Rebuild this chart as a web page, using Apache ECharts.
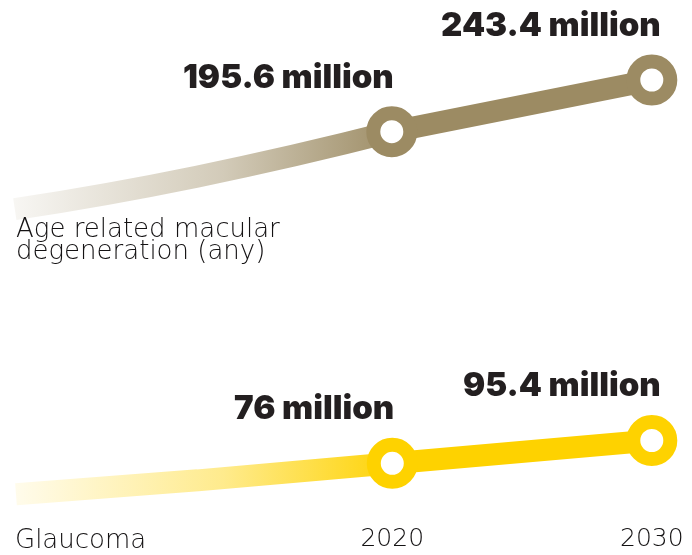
<!DOCTYPE html>
<html>
<head>
<meta charset="utf-8">
<script src="https://cdn.jsdelivr.net/npm/echarts@6/dist/echarts.min.js"></script>
<style>
html,body{margin:0;padding:0;background:#fff;}
#chart{width:692px;height:555px;}
</style>
</head>
<body>
<div id="chart"></div>
<script>
// ---- data ----
const seriesNames = ['Age related macular\ndegeneration (any)', 'Glaucoma'];
const leadYears = [2005.5, 2012.5, 2020];
const amdLead = [124, 154, 195.6];
const glaucomaLead = [49.7, 61.5, 76];
const mainYears = [2020, 2030];
const amdValues = [195.6, 243.4];
const glaucomaValues = [76, 95.4];
const tickYears = [2020, 2030];
const unit = ' million';

// ---- styles ----
const AMD = '#9c8b63';
const GLA = '#fed200';
const TEXT = '#231f20';
const LIGHT_TEXT = '#141213';
const boldFont = 'Inter';
const lightFont = '"DejaVu Sans"';

function pairs(xs, ys) { return xs.map((x, i) => [x, ys[i]]); }
function fade(hex) {
  const r = parseInt(hex.slice(1,3),16), g = parseInt(hex.slice(3,5),16), b = parseInt(hex.slice(5,7),16);
  return new echarts.graphic.LinearGradient(0, 0, 1, 0, [
    {offset: 0, color: `rgba(${r},${g},${b},0.06)`},
    {offset: 0.55, color: `rgba(${r},${g},${b},0.45)`},
    {offset: 1, color: `rgba(${r},${g},${b},1)`}
  ]);
}
function mainData(xs, ys) {
  return xs.map((x, i) => ({
    value: [x, ys[i]],
    label: {offset: i === 0 ? [2, 0] : [9, 0]}
  }));
}
const labelStyle = {
  show: true,
  position: 'top',
  align: 'right',
  distance: 12,
  fontFamily: boldFont,
  fontWeight: 900,
  fontSize: 33,
  lineHeight: 33,
  color: TEXT,
  formatter: p => p.value[1] + unit
};

const chart = echarts.init(document.getElementById('chart'), null, {renderer: 'canvas'});
chart.setOption({
  animation: false,
  backgroundColor: '#fff',
  title: [
    {text: seriesNames[0], left: 16, top: 219, padding: 0,
     textStyle: {fontFamily: lightFont, fontWeight: 200, fontSize: 26, lineHeight: 22, color: LIGHT_TEXT}},
    {text: seriesNames[1], left: 15, top: 528, padding: 0,
     textStyle: {fontFamily: lightFont, fontWeight: 200, fontSize: 26, lineHeight: 26, color: LIGHT_TEXT}}
  ],
  grid: [
    {left: 1.8, width: 650, top: 62.04, height: 173.06},
    {left: 1.8, width: 650, top: 411.6, height: 94}
  ],
  xAxis: [
    {gridIndex: 0, type: 'value', min: 2005, max: 2030, interval: 5, show: false},
    {gridIndex: 1, type: 'value', min: 2005, max: 2030, interval: 5,
     axisLine: {show: false}, axisTick: {show: false}, splitLine: {show: false},
     axisLabel: {margin: 21, fontFamily: lightFont, fontWeight: 200, fontSize: 25, color: LIGHT_TEXT,
       formatter: v => tickYears.includes(v) ? String(v) : ''}}
  ],
  yAxis: [
    {gridIndex: 0, type: 'value', min: 100, max: 260, show: false},
    {gridIndex: 1, type: 'value', min: 40, max: 120, show: false}
  ],
  series: [
    {type: 'line', xAxisIndex: 0, yAxisIndex: 0, data: pairs(leadYears, amdLead), smooth: 0.5,
     showSymbol: false, symbol: 'none', lineStyle: {width: 22, color: fade(AMD), cap: 'butt'}, silent: true},
    {type: 'line', xAxisIndex: 1, yAxisIndex: 1, data: pairs(leadYears, glaucomaLead), smooth: 0.5,
     showSymbol: false, symbol: 'none', lineStyle: {width: 22, color: fade(GLA), cap: 'butt'}, silent: true},
    {type: 'line', xAxisIndex: 0, yAxisIndex: 0, data: mainData(mainYears, amdValues),
     symbol: 'circle', symbolSize: 37, lineStyle: {width: 22, color: AMD},
     itemStyle: {color: '#fff', borderColor: AMD, borderWidth: 14},
     label: labelStyle, z: 3},
    {type: 'line', xAxisIndex: 1, yAxisIndex: 1, data: mainData(mainYears, glaucomaValues),
     symbol: 'circle', symbolSize: 37, lineStyle: {width: 22, color: GLA},
     itemStyle: {color: '#fff', borderColor: GLA, borderWidth: 14},
     label: labelStyle, z: 3}
  ]
});
</script>
</body>
</html>
